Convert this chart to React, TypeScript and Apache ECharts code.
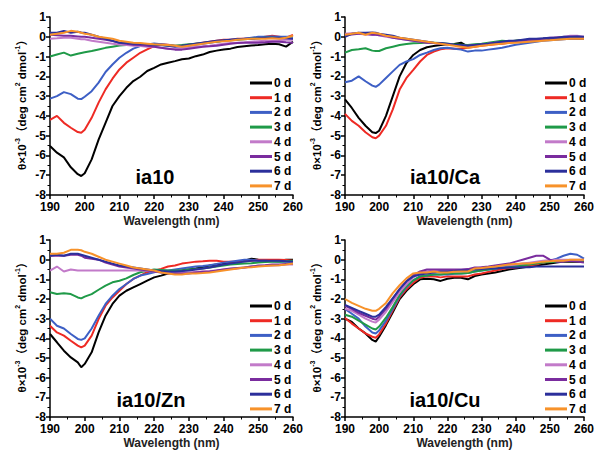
import React, { useEffect, useRef } from 'react';
import * as echarts from 'echarts';

const wavelengths = [190, 192, 194, 196, 198, 199, 200, 202, 204, 206, 208, 210, 212, 214, 216, 218, 220, 222, 224, 226, 228, 230, 232, 234, 236, 238, 240, 242, 244, 246, 248, 250, 252, 254, 256, 258, 260];

const dayNames = ['0 d', '1 d', '2 d', '3 d', '4 d', '5 d', '6 d', '7 d'];
const dayColors = ['#000000', '#ee2a24', '#3d5fc5', '#1f9a48', '#c27ac9', '#7a2c9e', '#2b2f9b', '#f7922a'];
const panelTitles = ['ia10', 'ia10/Ca', 'ia10/Zn', 'ia10/Cu'];

// ia10
const ia10_d0 = [-5.52, -5.86, -6.1, -6.6, -6.95, -7.04, -6.9, -6.2, -5.2, -4.35, -3.5, -3.0, -2.58, -2.24, -2.02, -1.73, -1.57, -1.4, -1.31, -1.23, -1.14, -1.1, -0.98, -0.9, -0.77, -0.7, -0.64, -0.6, -0.52, -0.48, -0.44, -0.42, -0.38, -0.35, -0.38, -0.5, -0.25];
const ia10_d1 = [-4.2, -4.0, -4.35, -4.6, -4.82, -4.85, -4.7, -4.1, -3.33, -2.66, -2.12, -1.65, -1.31, -1.06, -0.81, -0.64, -0.47, -0.38, -0.4, -0.45, -0.45, -0.4, -0.35, -0.3, -0.25, -0.2, -0.15, -0.15, -0.1, -0.1, -0.08, -0.05, 0.0, 0.05, 0.0, -0.05, 0.1];
const ia10_d2 = [-3.13, -3.0, -2.8, -2.9, -3.13, -3.15, -3.03, -2.75, -2.32, -1.78, -1.4, -1.06, -0.81, -0.6, -0.47, -0.39, -0.34, -0.38, -0.42, -0.46, -0.5, -0.45, -0.4, -0.35, -0.3, -0.25, -0.2, -0.15, -0.12, -0.1, -0.05, 0.0, 0.0, 0.02, 0.0, 0.0, 0.0];
const ia10_d3 = [-1.0, -0.9, -0.8, -0.95, -0.86, -0.82, -0.78, -0.72, -0.64, -0.56, -0.5, -0.44, -0.42, -0.4, -0.39, -0.4, -0.42, -0.42, -0.45, -0.45, -0.42, -0.38, -0.35, -0.32, -0.28, -0.25, -0.2, -0.18, -0.15, -0.12, -0.1, -0.08, -0.05, -0.05, -0.08, -0.1, -0.1];
const ia10_d4 = [-0.1, -0.08, -0.05, -0.05, -0.1, -0.12, -0.13, -0.2, -0.25, -0.3, -0.35, -0.39, -0.42, -0.45, -0.47, -0.5, -0.5, -0.55, -0.6, -0.6, -0.58, -0.55, -0.5, -0.48, -0.45, -0.4, -0.35, -0.32, -0.3, -0.28, -0.25, -0.22, -0.2, -0.2, -0.18, -0.15, -0.15];
const ia10_d5 = [0.1, 0.08, 0.05, 0.05, 0.02, 0.0, 0.0, -0.05, -0.1, -0.15, -0.22, -0.3, -0.35, -0.4, -0.42, -0.45, -0.5, -0.55, -0.6, -0.65, -0.65, -0.6, -0.55, -0.5, -0.48, -0.45, -0.4, -0.35, -0.32, -0.3, -0.3, -0.3, -0.28, -0.25, -0.25, -0.28, -0.3];
const ia10_d6 = [0.2, 0.2, 0.3, 0.2, 0.25, 0.22, 0.2, 0.1, 0.0, -0.1, -0.2, -0.3, -0.32, -0.35, -0.35, -0.38, -0.4, -0.42, -0.45, -0.5, -0.45, -0.4, -0.35, -0.3, -0.25, -0.2, -0.18, -0.15, -0.12, -0.1, -0.1, -0.08, -0.05, -0.05, -0.05, -0.08, -0.1];
const ia10_d7 = [0.1, 0.15, 0.2, 0.3, 0.25, 0.2, 0.15, 0.1, 0.0, -0.05, -0.1, -0.2, -0.25, -0.3, -0.32, -0.35, -0.38, -0.4, -0.42, -0.45, -0.5, -0.45, -0.4, -0.35, -0.3, -0.25, -0.22, -0.2, -0.15, -0.12, -0.1, -0.1, -0.1, -0.08, -0.1, -0.05, 0.05];

// ia10/Ca
const ca_d0 = [-3.17, -3.6, -4.1, -4.5, -4.83, -4.87, -4.75, -4.0, -3.0, -2.0, -1.33, -0.92, -0.67, -0.53, -0.47, -0.42, -0.38, -0.37, -0.3, -0.5, -0.45, -0.4, -0.35, -0.32, -0.3, -0.25, -0.2, -0.18, -0.15, -0.15, -0.12, -0.1, -0.08, -0.05, -0.05, -0.08, -0.1];
const ca_d1 = [-3.9, -4.25, -4.5, -4.83, -5.08, -5.13, -5.0, -4.5, -3.67, -2.67, -2.08, -1.67, -1.25, -0.92, -0.75, -0.63, -0.58, -0.6, -0.6, -0.55, -0.5, -0.45, -0.42, -0.38, -0.35, -0.3, -0.25, -0.22, -0.2, -0.18, -0.15, -0.12, -0.1, -0.1, -0.1, -0.1, -0.1];
const ca_d2 = [-2.3, -2.22, -2.0, -2.25, -2.47, -2.53, -2.42, -2.08, -1.75, -1.42, -1.25, -1.13, -0.92, -0.8, -0.67, -0.58, -0.55, -0.6, -0.65, -0.75, -0.7, -0.7, -0.65, -0.6, -0.55, -0.48, -0.4, -0.35, -0.3, -0.25, -0.2, -0.18, -0.15, -0.12, -0.1, -0.1, -0.1];
const ca_d3 = [-0.8, -0.67, -0.63, -0.58, -0.7, -0.72, -0.72, -0.58, -0.5, -0.42, -0.37, -0.33, -0.32, -0.3, -0.3, -0.32, -0.35, -0.38, -0.4, -0.42, -0.38, -0.35, -0.3, -0.25, -0.2, -0.22, -0.2, -0.18, -0.15, -0.12, -0.1, -0.08, -0.05, -0.05, -0.05, -0.05, -0.05];
const ca_d4 = [0.15, 0.18, 0.15, 0.12, 0.1, 0.1, 0.08, 0.0, -0.05, -0.1, -0.15, -0.2, -0.25, -0.3, -0.32, -0.35, -0.38, -0.42, -0.45, -0.48, -0.45, -0.4, -0.35, -0.3, -0.28, -0.25, -0.22, -0.2, -0.15, -0.12, -0.1, -0.05, -0.02, 0.0, 0.05, 0.05, 0.0];
const ca_d5 = [0.1, 0.12, 0.15, 0.15, 0.1, 0.1, 0.08, 0.05, -0.05, -0.1, -0.15, -0.2, -0.25, -0.3, -0.32, -0.35, -0.38, -0.42, -0.45, -0.45, -0.42, -0.4, -0.35, -0.3, -0.28, -0.25, -0.22, -0.18, -0.15, -0.12, -0.1, -0.08, -0.05, -0.02, 0.0, 0.0, -0.05];
const ca_d6 = [0.0, 0.15, 0.2, 0.2, 0.22, 0.2, 0.15, 0.1, 0.05, -0.05, -0.1, -0.15, -0.2, -0.25, -0.3, -0.32, -0.35, -0.4, -0.42, -0.45, -0.42, -0.38, -0.35, -0.3, -0.25, -0.2, -0.2, -0.15, -0.1, -0.1, -0.08, -0.05, -0.05, 0.0, 0.0, 0.02, 0.0];
const ca_d7 = [0.1, 0.15, 0.2, 0.1, 0.2, 0.18, 0.15, 0.05, 0.0, -0.05, -0.1, -0.15, -0.2, -0.25, -0.3, -0.35, -0.4, -0.45, -0.5, -0.55, -0.5, -0.45, -0.42, -0.38, -0.35, -0.32, -0.3, -0.28, -0.25, -0.22, -0.2, -0.18, -0.15, -0.12, -0.1, -0.1, -0.1];

// ia10/Zn
const zn_d0 = [-3.78, -4.2, -4.63, -4.97, -5.22, -5.47, -5.3, -4.71, -3.7, -2.85, -2.25, -1.83, -1.58, -1.41, -1.24, -1.07, -0.9, -0.81, -0.7, -0.6, -0.55, -0.5, -0.45, -0.38, -0.3, -0.25, -0.2, -0.15, -0.1, -0.05, 0.05, 0.0, -0.02, -0.05, -0.05, 0.0, 0.0];
const zn_d1 = [-3.36, -3.7, -3.86, -4.12, -4.37, -4.46, -4.37, -3.86, -3.02, -2.34, -1.92, -1.58, -1.24, -0.98, -0.81, -0.64, -0.56, -0.47, -0.35, -0.3, -0.2, -0.15, -0.1, -0.08, -0.05, -0.05, -0.1, -0.1, -0.1, -0.08, -0.05, 0.0, 0.0, 0.0, 0.0, -0.02, -0.05];
const zn_d2 = [-3.0, -3.36, -3.5, -3.78, -4.03, -4.08, -4.0, -3.5, -2.85, -2.25, -1.83, -1.49, -1.24, -0.98, -0.81, -0.73, -0.64, -0.55, -0.55, -0.5, -0.45, -0.4, -0.35, -0.32, -0.28, -0.22, -0.15, -0.1, -0.05, 0.0, 0.0, -0.05, -0.05, -0.08, -0.1, -0.1, -0.1];
const zn_d3 = [-1.66, -1.75, -1.71, -1.75, -1.92, -1.97, -1.88, -1.75, -1.53, -1.32, -1.15, -1.07, -0.95, -0.78, -0.64, -0.56, -0.5, -0.52, -0.55, -0.55, -0.55, -0.5, -0.48, -0.45, -0.4, -0.35, -0.3, -0.25, -0.22, -0.2, -0.18, -0.15, -0.12, -0.1, -0.1, -0.08, -0.05];
const zn_d4 = [-0.56, -0.35, -0.6, -0.5, -0.55, -0.55, -0.55, -0.55, -0.55, -0.55, -0.55, -0.55, -0.55, -0.55, -0.55, -0.58, -0.6, -0.62, -0.65, -0.65, -0.65, -0.65, -0.62, -0.6, -0.58, -0.55, -0.5, -0.48, -0.45, -0.4, -0.35, -0.32, -0.3, -0.3, -0.28, -0.25, -0.25];
const zn_d5 = [0.2, 0.2, 0.2, 0.25, 0.25, 0.2, 0.1, 0.05, 0.0, -0.15, -0.25, -0.35, -0.4, -0.45, -0.5, -0.55, -0.6, -0.65, -0.7, -0.7, -0.7, -0.7, -0.65, -0.62, -0.6, -0.55, -0.5, -0.45, -0.42, -0.4, -0.35, -0.3, -0.28, -0.25, -0.25, -0.22, -0.2];
const zn_d6 = [0.2, 0.25, 0.2, 0.3, 0.3, 0.25, 0.2, 0.1, 0.0, -0.1, -0.2, -0.3, -0.35, -0.4, -0.45, -0.5, -0.55, -0.58, -0.6, -0.6, -0.58, -0.55, -0.5, -0.45, -0.4, -0.32, -0.25, -0.2, -0.15, -0.1, -0.05, -0.05, -0.05, -0.05, -0.05, -0.08, -0.1];
const zn_d7 = [0.3, 0.3, 0.35, 0.5, 0.5, 0.48, 0.4, 0.3, 0.15, 0.0, -0.1, -0.2, -0.3, -0.4, -0.45, -0.5, -0.55, -0.65, -0.7, -0.75, -0.75, -0.7, -0.7, -0.68, -0.65, -0.6, -0.55, -0.5, -0.45, -0.4, -0.38, -0.35, -0.32, -0.3, -0.28, -0.25, -0.2];

// ia10/Cu
const cu_d0 = [-3.0, -3.17, -3.5, -3.75, -4.08, -4.17, -3.92, -3.33, -2.67, -2.0, -1.58, -1.25, -1.0, -0.97, -1.0, -1.08, -0.97, -0.92, -0.92, -1.0, -0.83, -0.75, -0.7, -0.65, -0.58, -0.5, -0.45, -0.4, -0.35, -0.3, -0.25, -0.2, -0.15, -0.1, -0.1, -0.1, -0.1];
const cu_d1 = [-2.97, -3.25, -3.5, -3.75, -3.92, -3.97, -3.8, -3.25, -2.58, -1.92, -1.5, -1.17, -0.92, -0.85, -0.85, -0.9, -0.85, -0.85, -0.85, -0.85, -0.75, -0.7, -0.62, -0.55, -0.48, -0.42, -0.4, -0.35, -0.3, -0.25, -0.15, -0.1, -0.08, -0.05, -0.05, -0.05, -0.05];
const cu_d2 = [-2.5, -2.75, -3.0, -3.4, -3.7, -3.75, -3.6, -3.1, -2.5, -1.85, -1.4, -1.05, -0.85, -0.8, -0.75, -0.75, -0.75, -0.72, -0.7, -0.68, -0.6, -0.55, -0.5, -0.45, -0.4, -0.35, -0.3, -0.25, -0.2, -0.15, -0.1, -0.05, 0.05, 0.2, 0.3, 0.25, 0.05];
const cu_d3 = [-2.8, -2.9, -3.1, -3.3, -3.5, -3.55, -3.4, -2.95, -2.4, -1.8, -1.35, -1.05, -0.85, -0.8, -0.75, -0.75, -0.7, -0.7, -0.7, -0.68, -0.6, -0.55, -0.5, -0.45, -0.4, -0.38, -0.35, -0.3, -0.25, -0.2, -0.15, -0.12, -0.1, -0.08, -0.05, -0.05, -0.05];
const cu_d4 = [-2.5, -2.6, -2.8, -3.0, -3.15, -3.2, -3.05, -2.65, -2.15, -1.65, -1.25, -0.9, -0.7, -0.6, -0.55, -0.55, -0.55, -0.55, -0.55, -0.52, -0.45, -0.4, -0.38, -0.35, -0.3, -0.28, -0.25, -0.2, -0.15, -0.1, -0.05, -0.02, 0.0, 0.0, 0.0, 0.0, 0.0];
const cu_d5 = [-2.35, -2.5, -2.7, -2.85, -3.0, -3.05, -2.9, -2.5, -2.0, -1.5, -1.1, -0.8, -0.6, -0.5, -0.5, -0.5, -0.5, -0.5, -0.5, -0.48, -0.4, -0.38, -0.35, -0.3, -0.25, -0.2, -0.1, 0.0, 0.1, 0.2, 0.2, 0.0, -0.1, -0.1, -0.05, -0.1, -0.15];
const cu_d6 = [-2.3, -2.45, -2.6, -2.75, -2.9, -2.9, -2.8, -2.4, -1.95, -1.5, -1.1, -0.85, -0.75, -0.7, -0.65, -0.6, -0.6, -0.58, -0.55, -0.55, -0.5, -0.48, -0.45, -0.45, -0.42, -0.4, -0.4, -0.38, -0.38, -0.35, -0.35, -0.35, -0.35, -0.35, -0.35, -0.35, -0.35];
const cu_d7 = [-2.0, -2.2, -2.35, -2.5, -2.6, -2.6, -2.5, -2.2, -1.7, -1.3, -0.95, -0.7, -0.65, -0.65, -0.6, -0.65, -0.65, -0.62, -0.6, -0.6, -0.45, -0.42, -0.38, -0.35, -0.3, -0.25, -0.22, -0.2, -0.2, -0.15, -0.1, -0.08, -0.05, -0.05, 0.0, 0.0, 0.0];

const panelData = [
  [ia10_d0, ia10_d1, ia10_d2, ia10_d3, ia10_d4, ia10_d5, ia10_d6, ia10_d7],
  [ca_d0, ca_d1, ca_d2, ca_d3, ca_d4, ca_d5, ca_d6, ca_d7],
  [zn_d0, zn_d1, zn_d2, zn_d3, zn_d4, zn_d5, zn_d6, zn_d7],
  [cu_d0, cu_d1, cu_d2, cu_d3, cu_d4, cu_d5, cu_d6, cu_d7],
];

const FONT = '"Liberation Sans", Arial, "Noto Sans CJK SC", sans-serif';
const gridPos = [
  { left: 50, top: 17 },
  { left: 345, top: 17 },
  { left: 50, top: 240 },
  { left: 345, top: 240 },
];
const GW = 243;
const GH = 178;

export default function App() {
  const ref = useRef<HTMLDivElement>(null);
  useEffect(() => {
    if (!ref.current) return;
    const chart = echarts.init(ref.current, null, { renderer: 'svg' });
    const grid = gridPos.map((g) => ({ left: g.left, top: g.top, width: GW, height: GH }));
    const xAxis = gridPos.map((_, i) => ({
      gridIndex: i,
      type: 'value',
      min: 190,
      max: 260,
      interval: 10,
      name: 'Wavelength (nm)',
      nameLocation: 'middle',
      nameGap: 20,
      nameTextStyle: { fontWeight: 'bold', fontSize: 12, color: '#222', fontFamily: FONT },
      axisLine: { show: true, onZero: false, lineStyle: { color: '#000', width: 1.5 } },
      axisTick: { show: true, length: 4, lineStyle: { color: '#000', width: 1.5 } },
      minorTick: { show: true, splitNumber: 2, length: 2.5, lineStyle: { color: '#000', width: 1 } },
      axisLabel: { fontWeight: 'bold', fontSize: 12, color: '#000', margin: 6, fontFamily: FONT },
      splitLine: { show: false },
    }));
    const yAxis = gridPos.map((_, i) => ({
      gridIndex: i,
      type: 'value',
      min: -8,
      max: 1,
      interval: 1,
      name: '{a|θ×10}{s|-3}{a|（deg cm}{s|2}{a| dmol}{s|-1}{a|）}',
      nameLocation: 'middle',
      nameRotate: 90,
      nameGap: 22,
      nameTextStyle: {
        fontFamily: FONT,
        padding: [0, 0, 0, 8],
        rich: {
          a: { fontSize: 11.5, fontWeight: 'bold', color: '#000', fontFamily: FONT, lineHeight: 14, verticalAlign: 'bottom' },
          s: { fontSize: 7, fontWeight: 'bold', color: '#000', fontFamily: FONT, lineHeight: 14, verticalAlign: 'top' },
        },
      },
      axisLine: { show: true, onZero: false, lineStyle: { color: '#000', width: 1.5 } },
      axisTick: { show: true, length: 4, lineStyle: { color: '#000', width: 1.5 } },
      minorTick: { show: true, splitNumber: 2, length: 2.5, lineStyle: { color: '#000', width: 1 } },
      axisLabel: { fontWeight: 'bold', fontSize: 12, color: '#000', margin: 4, fontFamily: FONT },
      splitLine: { show: false },
    }));
    const series: any[] = [];
    panelData.forEach((panel, pi) => {
      panel.forEach((vals, di) => {
        series.push({
          type: 'line',
          name: dayNames[di],
          xAxisIndex: pi,
          yAxisIndex: pi,
          data: wavelengths.map((w, k) => [w, vals[k]]),
          showSymbol: false,
          symbol: 'none',
          lineStyle: { color: dayColors[di], width: 2 },
          itemStyle: { color: dayColors[di] },
          z: 2 + di,
        });
      });
    });
    const legend = gridPos.map((g) => ({
      data: dayNames,
      orient: 'vertical',
      left: g.left + 195,
      top: g.top + 55,
      icon: 'rect',
      itemWidth: 22,
      itemHeight: 3,
      itemGap: 2.7,
      selectedMode: false,
      textStyle: { fontWeight: 'bold', fontSize: 12, color: '#000', fontFamily: FONT, lineHeight: 12, padding: [0, 0, 0, -3] },
    }));
    const titleCenters = [
      { x: 155, y: 177 },
      { x: 445, y: 177 },
      { x: 151, y: 400 },
      { x: 445, y: 400 },
    ];
    const graphic = panelTitles.map((t, i) => ({
      type: 'text',
      x: titleCenters[i].x,
      y: titleCenters[i].y,
      z: 100,
      style: {
        text: t,
        font: `bold 20px ${FONT}`,
        fill: '#000',
        textAlign: 'center',
        textVerticalAlign: 'middle',
      },
    }));
    chart.setOption({
      animation: false,
      backgroundColor: '#ffffff',
      grid,
      xAxis,
      yAxis,
      legend,
      graphic,
      series,
    });
    return () => chart.dispose();
  }, []);
  return <div ref={ref} style={{ position: 'absolute', left: 0, top: 0, width: 597, height: 450 }} />;
}
